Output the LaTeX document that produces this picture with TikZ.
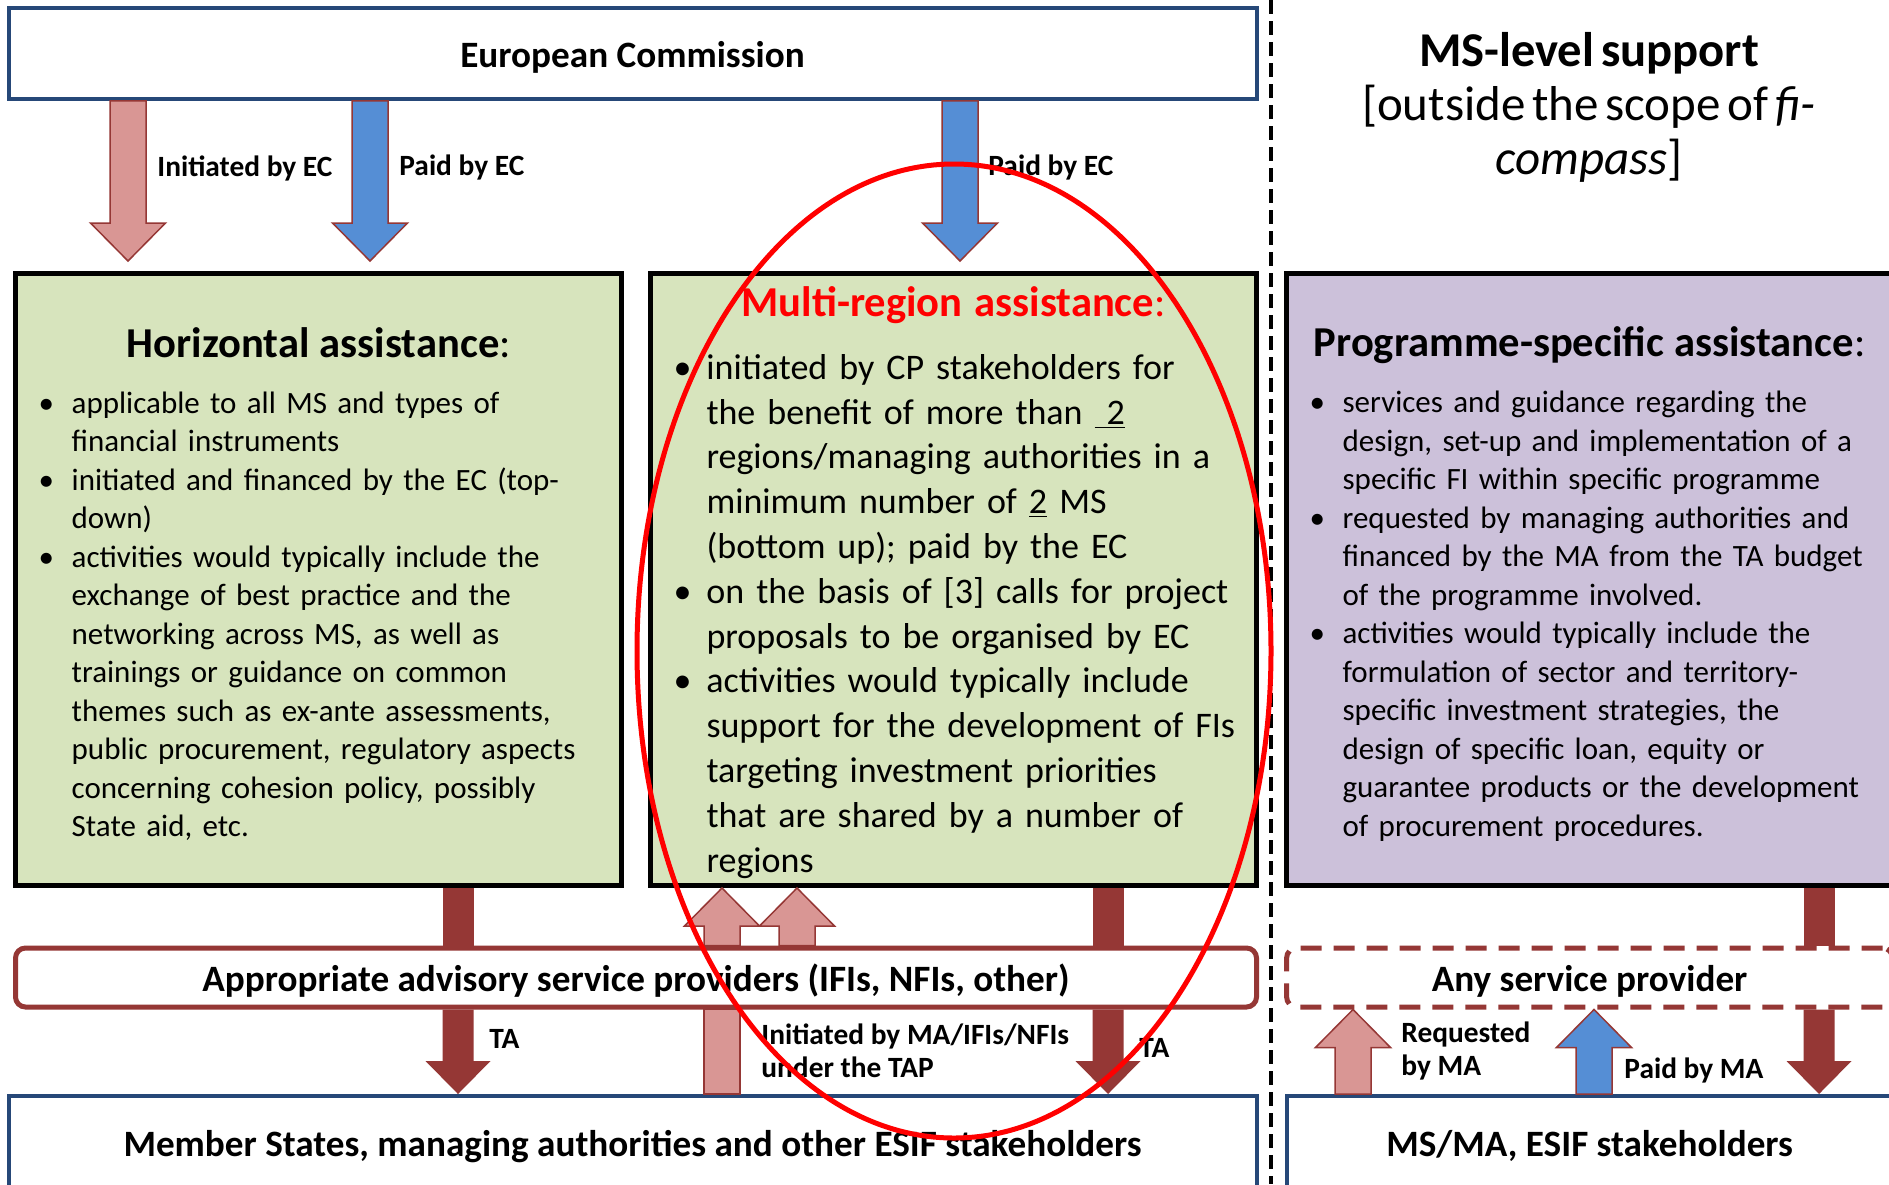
\documentclass[tikz,border=0pt]{standalone}
\usepackage{fontspec}
\setmainfont{Carlito}
\usetikzlibrary{calc,positioning}

\definecolor{ecblue}{RGB}{38,72,120}
\definecolor{hgreen}{RGB}{215,228,189}
\definecolor{plilac}{RGB}{204,193,218}
\definecolor{tared}{RGB}{149,55,53}
\definecolor{ipink}{RGB}{217,150,148}
\definecolor{pblue}{RGB}{85,142,213}

\tikzset{
  shaft w/.store in=\shaftw, tip w/.store in=\tipw, tip l/.store in=\tipl,
  shaft w=9pt, tip w=18.75pt, tip l=19pt
}

\newcommand\bitem{\par\noindent\hangindent=16.5pt\hangafter=1\makebox[16.5pt][l]{\textbullet}}

\newcommand\blockarrow[3][]{%
  \filldraw[#1] let \p1=(#2), \p2=(#3), \n1={\y2>\y1 ? \y2-\tipl : \y2+\tipl} in
    ({\x1-\shaftw},\y1) -- ({\x1-\shaftw},{\n1*1pt}) -- ({\x1-\tipw},{\n1*1pt})
    -- (\x1,\y2) -- ({\x1+\tipw},{\n1*1pt}) -- ({\x1+\shaftw},{\n1*1pt})
    -- ({\x1+\shaftw},\y1) -- cycle;}

\begin{document}
\begin{tikzpicture}[x=0.5pt, y=-0.5pt,
    box/.style={draw, line width=2.5pt, minimum width=303pt, minimum height=306pt,
      text width=290pt, inner xsep=6.5pt, align=left, font=\fontsize{15.5}{19.25}\selectfont},
    bluebox/.style={draw=ecblue, line width=2pt, fill=white, text height=15pt, text depth=1.5pt,
      font=\bfseries\fontsize{18.6}{22}\selectfont},
    provider/.style={draw=tared, line width=2.5pt, fill=white, rounded corners=5pt,
      minimum height=29.5pt, text height=15pt, text depth=1.5pt, font=\bfseries\fontsize{18.6}{22}\selectfont},
    pinkbar/.style={fill=ipink, draw=tared, line width=0.75pt, shaft w=9pt, tip w=18.75pt, tip l=19pt},
    bluebar/.style={pinkbar, fill=pblue},
    tabar/.style={fill=tared, draw=none, shaft w=7.75pt, tip w=16.25pt, tip l=16.5pt},
    tashaft/.style={draw=tared, line width=15.5pt},
    lbl/.style={anchor=west, inner sep=0pt, align=left, font=\bfseries\fontsize{14.7}{16.5}\selectfont},
    divider/.style={line width=2pt, dash pattern=on 7pt off 3.5pt},
    hilite/.style={draw=red, line width=2.5pt}]

\useasboundingbox (0,0) rectangle (1889,1184);
\fill[white] (0,0) rectangle (1889,1184);
\draw[divider] (1271,0) -- (1271,1184);

\node[bluebox, minimum width=624pt, minimum height=45.2pt] (ec) at (632.5,53.6) {European Commission};
\node[text width=330pt, align=center, inner sep=0pt] (mslevel) at (1589,107)
  {{\bfseries\fontsize{24.3}{29}\selectfont MS-level support\par}
   \fontsize{24.5}{27}\selectfont [outside the scope of \textit{fi-}\\\textit{compass}]\par};

\node[box, fill=hgreen] (hor) at (318.7,579.5) {%
  {\centering\fontsize{21.3}{25}\selectfont\rule{0pt}{19.5pt}\textbf{Horizontal assistance}:\par}
  \vspace{8.6pt}\leftskip=5pt
  \bitem applicable to all MS and types of\newline financial instruments
  \bitem initiated and financed by the EC (top-\newline down)
  \bitem activities would typically include the\newline exchange of best practice and the\newline networking across MS, as well as\newline trainings or guidance on common\newline themes such as ex-ante assessments,\newline public procurement, regulatory aspects\newline concerning cohesion policy, possibly\newline State aid, etc.\par};
\node[box, fill=hgreen, font=\fontsize{18}{22.4}\selectfont] (multi) at (953.5,579.5) {%
  {\centering\fontsize{21.3}{25}\selectfont\rule{0pt}{17.7pt}\textcolor{red}{\textbf{Multi-region assistance}:}\par}
  \vspace{9.2pt}\leftskip=5pt
  \bitem initiated by CP stakeholders for\newline the benefit of more than \underline{\ 2}\newline regions/managing authorities in a\newline minimum number of \underline{2} MS\newline (bottom up); paid by the EC
  \bitem on the basis of [3] calls for project\newline proposals to be organised by EC
  \bitem activities would typically include\newline support for the development of FIs\newline targeting investment priorities\newline that are shared by a number of\newline regions\par};
\node[box, fill=plilac] (prog) at (1589.6,579.5) {%
  {\centering\fontsize{21.3}{25}\selectfont\rule{0pt}{19.5pt}\textbf{Programme-specific assistance}:\par}
  \vspace{8.6pt}\leftskip=5pt
  \bitem services and guidance regarding the\newline design, set-up and implementation of a\newline specific FI within specific programme
  \bitem requested by managing authorities and\newline financed by the MA from the TA budget\newline of the programme involved.
  \bitem activities would typically include the\newline formulation of sector and territory-\newline specific investment strategies, the\newline design of specific loan, equity or\newline guarantee products or the development\newline of procurement procedures.\par};

\node[provider, minimum width=620.5pt] (adv) at (636,977.5) {Appropriate advisory service providers (IFIs, NFIs, other)};
\node[provider, dash pattern=on 10.5pt off 6pt, minimum width=303pt] (any) at (1589.6,977.5) {Any service provider};

\node[bluebox, minimum width=624pt, minimum height=47pt] (mem) at (632.5,1143) {Member States, managing authorities and other ESIF stakeholders};
\node[bluebox, minimum width=303pt, minimum height=47pt] (msma) at (1589.6,1143) {MS/MA, ESIF stakeholders};

\coordinate (ecinit) at (128,0);
\coordinate (ecpay) at (370,0);
\coordinate (ecpaymr) at (960,0);
\coordinate (tahor) at (458,0);
\coordinate (tamr) at (1108,0);
\coordinate (taprog) at (1819,0);
\coordinate (mainit) at (722,0);
\coordinate (mainitb) at (797,0);
\coordinate (mareq) at (1353,0);
\coordinate (mapay) at (1594,0);

\blockarrow[pinkbar]{ec.south -| ecinit}{$(hor.north -| ecinit)+(0,-10)$}
\blockarrow[bluebar]{ec.south -| ecpay}{$(hor.north -| ecpay)+(0,-10)$}
\blockarrow[bluebar]{ec.south -| ecpaymr}{$(multi.north -| ecpaymr)+(0,-10)$}

\draw[tashaft] (hor.south -| tahor) -- (adv.north -| tahor);
\draw[tashaft] (multi.south -| tamr) -- (adv.north -| tamr);
\draw[tashaft] (prog.south -| taprog) -- (any.north -| taprog);
\blockarrow[tabar]{adv.south -| tahor}{mem.north -| tahor}
\blockarrow[tabar]{adv.south -| tamr}{mem.north -| tamr}
\blockarrow[tabar]{any.south -| taprog}{msma.north -| taprog}

\filldraw[pinkbar] ($(mem.north -| mainit)+(-18,0)$) rectangle ($(adv.south -| mainit)+(18,0)$);
\blockarrow[pinkbar]{adv.north -| mainit}{multi.south -| mainit}
\blockarrow[pinkbar]{adv.north -| mainitb}{multi.south -| mainitb}
\blockarrow[pinkbar]{msma.north -| mareq}{any.south -| mareq}
\blockarrow[bluebar]{msma.north -| mapay}{any.south -| mapay}

\node[lbl] (lecinit) at (157,168) {Initiated by EC};
\node[lbl] (lecpay) at (399,167) {Paid by EC};
\node[lbl] (lecpaymr) at (988,167) {Paid by EC};
\node[lbl] (ltahor) at (489,1039) {TA};
\node[lbl] (lmainit) at (761,1051) {Initiated by MA/IFIs/NFIs\\under the TAP};
\node[lbl] (ltamr) at (1139,1048) {TA};
\node[lbl] (lmareq) at (1401,1051) {Requested\\by MA};
\node[lbl] (lmapay) at (1624,1070) {Paid by MA};

\draw[hilite] (954,651) ellipse [x radius=158.5pt, y radius=243.5pt];
\end{tikzpicture}
\end{document}
